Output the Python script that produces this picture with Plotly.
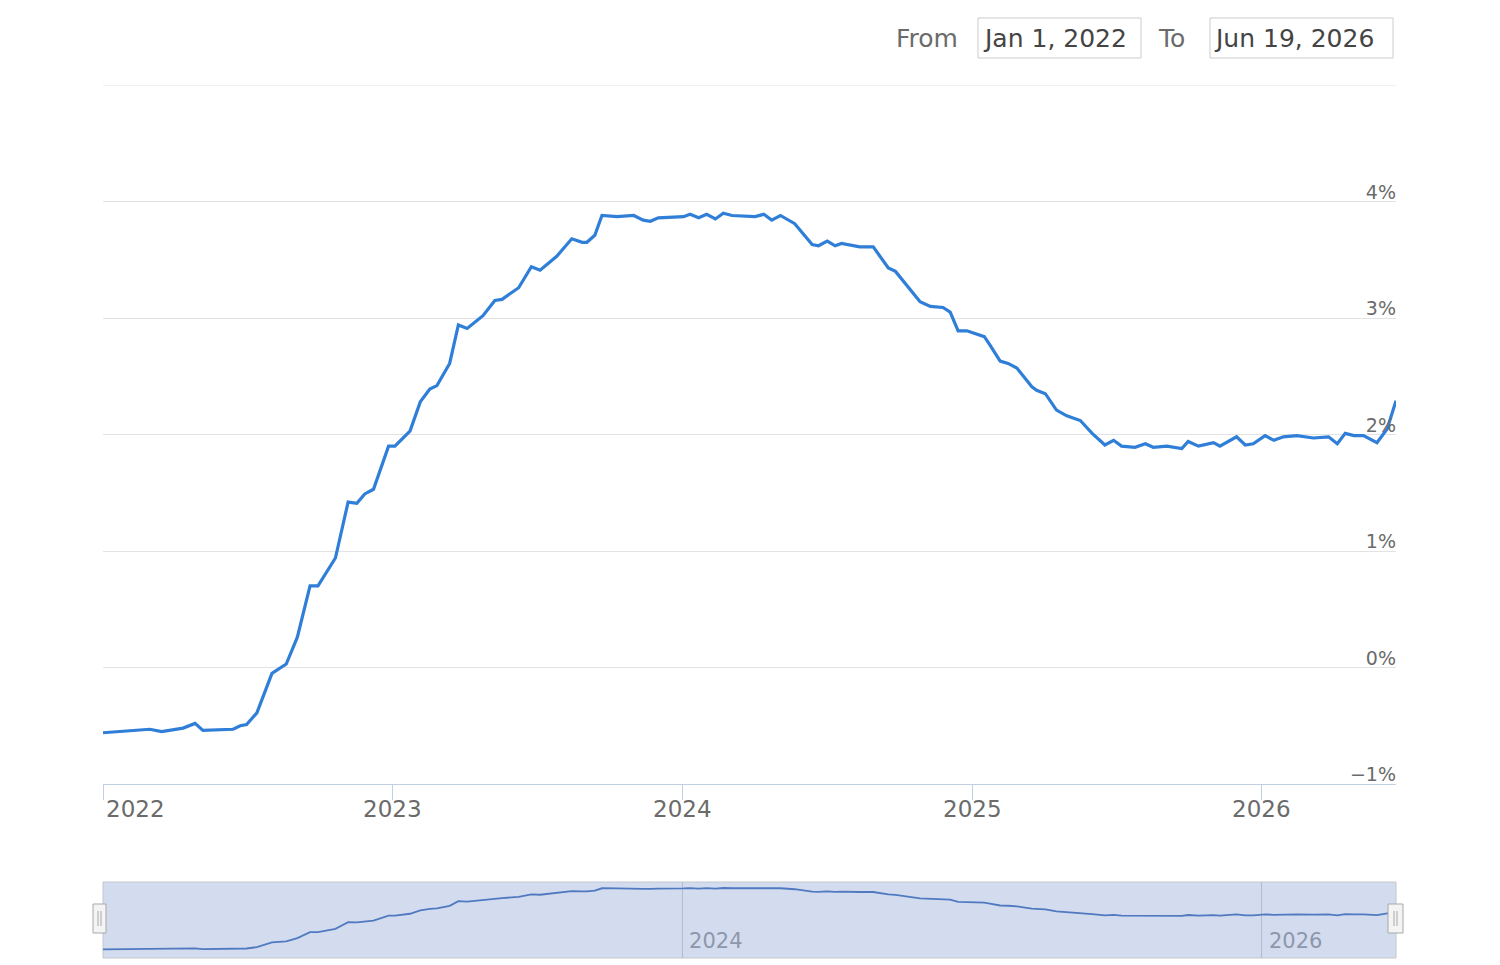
import pandas as pd
import plotly.graph_objects as go

# ---------------- data ----------------
start_date = "2022-01-01"
end_date = "2026-06-19"

# observation dates, expressed as days after start_date
days_since_start = [
    0, 59, 74, 101, 116, 126, 164, 173, 181, 194, 213, 231, 245, 261, 271, 293,
    309, 320, 330, 341, 360, 368, 387, 400, 412, 421, 437, 448, 459, 479, 494,
    503, 524, 540, 551, 572, 591, 604, 610, 620, 629, 648, 669, 681, 690, 700,
    732, 740, 751, 761, 772, 782, 793, 822, 833, 843, 854, 872, 894, 902, 913,
    923, 931, 954, 971, 990, 999, 1030, 1043, 1059, 1068, 1078, 1089, 1111,
    1118, 1131, 1141, 1152, 1171, 1177, 1188, 1202, 1215, 1232, 1247, 1263,
    1274, 1284, 1301, 1314, 1324, 1341, 1360, 1368, 1381, 1400, 1408, 1429,
    1440, 1450, 1465, 1476, 1488, 1505, 1526, 1545, 1556, 1566, 1577, 1589,
    1606, 1619, 1630,
]
rate_pct = [
    -0.56, -0.53, -0.55, -0.52, -0.48, -0.54, -0.53, -0.50, -0.49, -0.39,
    -0.05, 0.03, 0.26, 0.70, 0.70, 0.94, 1.42, 1.41, 1.49, 1.53, 1.90, 1.90,
    2.03, 2.28, 2.39, 2.42, 2.61, 2.94, 2.91, 3.02, 3.15, 3.16, 3.26, 3.44,
    3.41, 3.53, 3.68, 3.65, 3.65, 3.71, 3.88, 3.87, 3.88, 3.84, 3.83, 3.86,
    3.87, 3.89, 3.86, 3.89, 3.85, 3.90, 3.88, 3.87, 3.89, 3.84, 3.88, 3.81,
    3.63, 3.62, 3.66, 3.62, 3.64, 3.61, 3.61, 3.43, 3.40, 3.14, 3.10, 3.09,
    3.05, 2.89, 2.89, 2.84, 2.77, 2.63, 2.61, 2.57, 2.41, 2.38, 2.35, 2.21,
    2.16, 2.12, 2.01, 1.91, 1.95, 1.90, 1.89, 1.92, 1.89, 1.90, 1.88, 1.94,
    1.90, 1.93, 1.90, 1.98, 1.91, 1.92, 1.99, 1.95, 1.98, 1.99, 1.97, 1.98,
    1.92, 2.01, 1.99, 1.99, 1.93, 2.05, 2.29,
]

year_ticks = ["2022-01-01", "2023-01-01", "2024-01-01", "2025-01-01", "2026-01-01"]
year_labels = ["2022", "2023", "2024", "2025", "2026"]
y_ticks = [-1, 0, 1, 2, 3, 4, 5]
y_tick_labels = ["\u22121%", "0%", "1%", "2%", "3%", "4%", ""]
nav_ticks = ["2024-01-01", "2026-01-01"]
nav_labels = ["2024", "2026"]

# ---------------- helpers ----------------
W, H = 1500, 965
FONT = "DejaVu Sans"
GRID = "#e3e3e3"


def px(x):
    return x / W


def py(y):
    return 1 - y / H


dates = pd.Timestamp(start_date) + pd.to_timedelta(days_since_start, unit="D")
t0, t1 = pd.Timestamp(start_date), pd.Timestamp(end_date)

fig = go.Figure()
fig.add_trace(go.Scatter(
    x=dates, y=rate_pct, mode="lines", xaxis="x", yaxis="y",
    line=dict(color="#2f7ed8", width=3.2), hoverinfo="x+y", showlegend=False,
))
fig.add_trace(go.Scatter(
    x=dates, y=rate_pct, mode="lines", xaxis="x2", yaxis="y2",
    line=dict(color="#5079c0", width=1.8), hoverinfo="skip", showlegend=False,
))

x_dom = [px(103), px(1396)]
fig.update_layout(
    width=W, height=H,
    margin=dict(l=0, r=0, t=0, b=0),
    paper_bgcolor="white", plot_bgcolor="white",
    font=dict(family=FONT, color="#666"),
    showlegend=False,
    xaxis=dict(
        domain=x_dom, anchor="y", type="date", range=[t0, t1],
        showgrid=False, zeroline=False,
        showline=True, linecolor="#c0d0e0", linewidth=1,
        ticks="outside", ticklen=15, tickcolor="#c0d0e0", tickwidth=1,
        tickvals=year_ticks, showticklabels=False, fixedrange=True,
    ),
    yaxis=dict(
        domain=[py(784), py(85)], anchor="x", range=[y_ticks[0], y_ticks[-1]],
        side="right",
        tickvals=y_ticks, ticktext=y_tick_labels,
        ticklabelposition="inside top", ticks="",
        ticklabelshift=4, ticklabelstandoff=-3, ticklabeloverflow="allow",
        tickfont=dict(family=FONT, size=19, color="#6b6b6b"),
        showgrid=True, gridcolor=GRID, gridwidth=1,
        zeroline=False, showline=False, fixedrange=True,
    ),
    xaxis2=dict(
        domain=x_dom, anchor="y2", type="date", range=[t0, t1],
        showgrid=True, gridcolor="#b3bccf", gridwidth=1,
        tickvals=nav_ticks, ticktext=nav_labels,
        ticklabelposition="inside right", ticks="",
        ticklabelshift=7,
        tickfont=dict(family=FONT, size=21, color="#8d97ab"),
        zeroline=False, showline=False, fixedrange=True,
    ),
    yaxis2=dict(
        domain=[py(958), py(882)], anchor="x2", range=[-1.18, 4.335],
        showgrid=False, zeroline=False, showticklabels=False,
        showline=False, ticks="", fixedrange=True,
    ),
)

shapes = []
# top gridline (at the edge of the value range)
shapes.append(dict(type="line", xref="x domain", yref="y", x0=0, x1=1,
                   y0=y_ticks[-1], y1=y_ticks[-1], layer="below",
                   line=dict(color=GRID, width=1)))
# navigator mask / background
shapes.append(dict(type="rect", xref="x2 domain", yref="y2 domain",
                   x0=0, x1=1, y0=0, y1=1, layer="below",
                   fillcolor="#d3dcef", line=dict(color="#c4c6cc", width=1)))
# navigator handles (UI decoration, placed at the navigator edges)
for edge, (a, b) in ((x_dom[0], (-10, 3)), (x_dom[1], (-8, 7))):
    shapes.append(dict(type="rect", xref="paper", xsizemode="pixel", xanchor=edge,
                       x0=a, x1=b, yref="paper", y0=py(933), y1=py(904),
                       fillcolor="#f4f4f4", line=dict(color="#a8a8a8", width=1)))
    mid = (a + b) / 2
    for off in (-1.5, 1.5):
        shapes.append(dict(type="line", xref="paper", xsizemode="pixel", xanchor=edge,
                           x0=mid + off, x1=mid + off, yref="paper",
                           y0=py(926), y1=py(911),
                           line=dict(color="#a8a8a8", width=1)))
# date input boxes
for x0, x1 in ((978, 1141), (1210, 1393)):
    shapes.append(dict(type="rect", xref="paper", yref="paper",
                       x0=px(x0), x1=px(x1), y0=py(58), y1=py(18),
                       fillcolor="white", line=dict(color="#cccccc", width=1)))

annotations = []
fmt = lambda t: t.strftime("%b ") + str(t.day) + t.strftime(", %Y")
for text, x, color in (("From", 894, "#6b6b6b"), (fmt(t0), 981, "#444444"),
                       ("To", 1156, "#6b6b6b"), (fmt(t1), 1212, "#444444")):
    annotations.append(dict(text=text, xref="paper", yref="paper",
                            x=px(x), y=py(39), xanchor="left", yanchor="middle",
                            showarrow=False,
                            font=dict(family=FONT, size=25, color=color)))
# main x-axis labels
for i, (tv, tl) in enumerate(zip(year_ticks, year_labels)):
    annotations.append(dict(text=tl, xref="x", yref="paper", x=tv, y=py(809),
                            xanchor="left" if i == 0 else "center",
                            xshift=1 if i == 0 else 0,
                            yanchor="middle", showarrow=False,
                            font=dict(family=FONT, size=23, color="#6b6b6b")))
fig.update_layout(shapes=shapes, annotations=annotations)

fig.write_html("out.html")
